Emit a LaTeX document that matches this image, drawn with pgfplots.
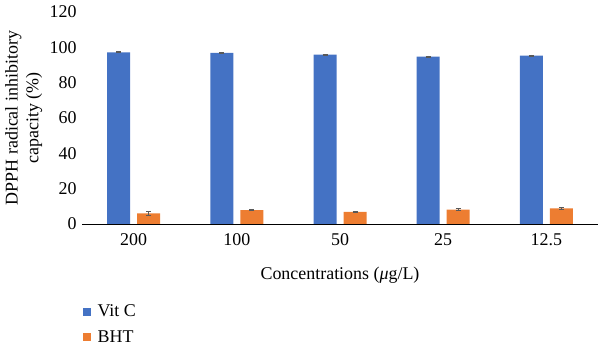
\documentclass[border=0pt]{standalone}
\usepackage{pgfplots}
\pgfplotsset{compat=1.18}
\usepackage{fontspec}
\setmainfont{Liberation Serif}
\definecolor{vitc}{HTML}{4472C4}
\definecolor{bht}{HTML}{ED7D31}
\begin{document}
\begin{tikzpicture}
\begin{axis}[name=ax,
  scale only axis, width=516bp, height=212bp,
  xmin=-0.5, xmax=4.5, ymin=0, ymax=120,
  ytick={0,20,...,120},
  xtick=data, xticklabels={200,100,50,25,12.5},
  major tick length=0pt,
  axis line style={draw=none},
  font=\fontsize{18}{21}\selectfont,
  /pgf/number format/assume math mode=true,
  ybar=7bp, bar width=23bp,
  xticklabel style={yshift=-6bp},
  yticklabel style={xshift=-2bp},
  xlabel={Concentrations (\textit{μ}g/L)},
  xlabel style={at={(axis description cs:0.5,0)}, anchor=center, yshift=-51bp},
  ylabel={DPPH radical inhibitory\\capacity (\%)},
  ylabel style={align=center, at={(axis description cs:-0.113,0.5)}, anchor=center, rotate=0},
  legend style={draw=none, at={(axis description cs:-0.005,-0.362)}, anchor=north west,
    row sep=8bp, font=\fontsize{18}{21}\selectfont, fill=none},
  legend cell align=left,
  legend image code/.code={\fill[#1] (0bp,-4bp) rectangle (8bp,4bp);},
  clip=false,
  error bars/y dir=both, error bars/y explicit,
  error bars/error bar style={gray!70!black, line width=0.8pt},
  error bars/error mark options={rotate=90, mark size=2.5bp, gray!70!black, line width=0.8pt},
]
\addplot[fill=vitc, draw=none] coordinates {
  (0,97.2) +- (0,0.3)
  (1,96.8) +- (0,0.3)
  (2,95.9) +- (0,0.3)
  (3,94.8) +- (0,0.3)
  (4,95.3) +- (0,0.4)
};
\addlegendentry{\hspace{5bp}Vit C}
\addplot[fill=bht, draw=none] coordinates {
  (0,6.0) +- (0,1.3)
  (1,7.9) +- (0,0.4)
  (2,6.8) +- (0,0.3)
  (3,8.1) +- (0,0.5)
  (4,8.8) +- (0,0.5)
};
\addlegendentry{\hspace{5bp}BHT}
\draw[black, line width=1pt] (rel axis cs:0,0) -- (rel axis cs:1,0);
\end{axis}
\pgfresetboundingbox
\path ([shift={(-82bp,-126bp)}]ax.south west) rectangle ([shift={(2bp,12bp)}]ax.north east);
\end{tikzpicture}
\end{document}
